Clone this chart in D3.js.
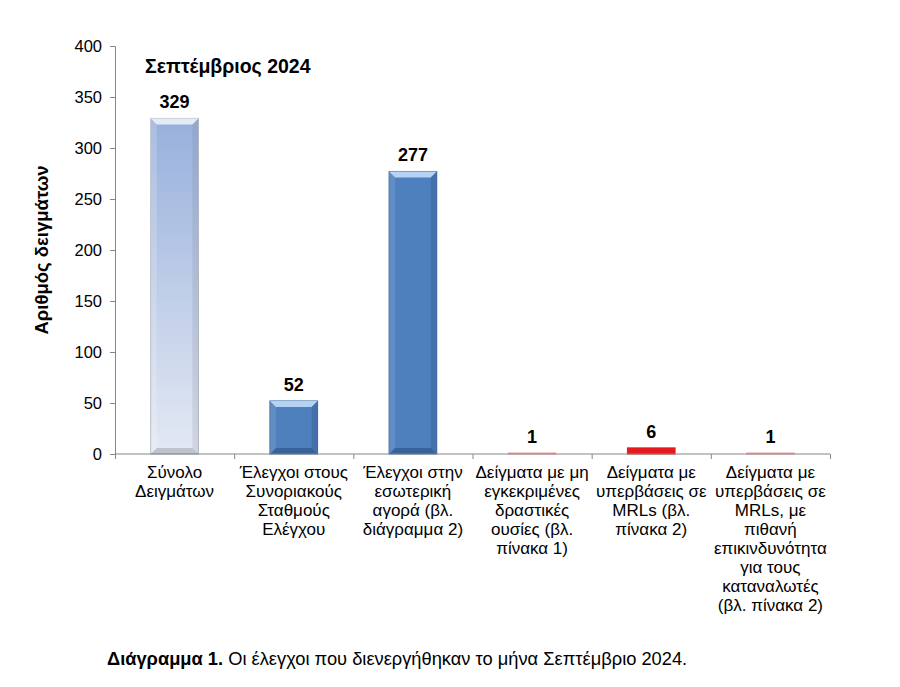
<!DOCTYPE html>
<html><head><meta charset="utf-8">
<script src="https://cdn.jsdelivr.net/npm/d3@7"></script>
<style>body{margin:0;background:#fff;} text{font-family:"Liberation Sans",Arial,sans-serif;}</style>
</head><body>
<svg id="c" width="900" height="687"></svg>
<script>
const categories = [
  ["Σύνολο","Δειγμάτων"],
  ["Έλεγχοι στους","Συνοριακούς","Σταθμούς","Ελέγχου"],
  ["Έλεγχοι στην","εσωτερική","αγορά (βλ.","διάγραμμα 2)"],
  ["Δείγματα με μη","εγκεκριμένες","δραστικές","ουσίες (βλ.","πίνακα 1)"],
  ["Δείγματα με","υπερβάσεις σε","MRLs (βλ.","πίνακα 2)"],
  ["Δείγματα με","υπερβάσεις σε","MRLs, με","πιθανή","επικινδυνότητα","για τους","καταναλωτές","(βλ. πίνακα 2)"]
];
const values = [329, 52, 277, 1, 6, 1];
const barKinds = ["total","blue","blue","red","red","red"];
const yTicks = [0,50,100,150,200,250,300,350,400];
const chartTitle = "Σεπτέμβριος 2024";
const yTitle = "Αριθμός δειγμάτων";

const svg = d3.select("#c");
const pL = 115, pR = 830, pT = 46, pB = 454;
const x = d3.scaleBand().domain(d3.range(values.length)).range([pL, pR]).paddingInner(0.6).paddingOuter(0.3);
const y = d3.scaleLinear().domain([0, 400]).range([pB, pT]);

const defs = svg.append("defs");
const g1 = defs.append("linearGradient").attr("id","gTotal").attr("x1",0).attr("y1",0).attr("x2",0).attr("y2",1);
g1.append("stop").attr("offset","0%").attr("stop-color","#97b0dc");
g1.append("stop").attr("offset","100%").attr("stop-color","#e4e9f3");

const colors = {
  total:{fill:"url(#gTotal)", stroke:"#b4b8c4", light:"rgba(255,255,255,0.75)", dark:"rgba(120,125,140,0.35)", side:"rgba(255,255,255,0.18)"},
  blue:{fill:"#4f80be", stroke:"#3f6ca6", light:"rgba(200,225,255,0.85)", dark:"rgba(30,60,110,0.45)", side:"rgba(255,255,255,0.10)"},
  red:{fill:"#e51a1f", stroke:"#e51a1f", light:"rgba(255,150,150,0.6)", dark:"rgba(120,0,0,0.3)", side:"rgba(255,255,255,0)"}
};

const bars = svg.append("g").selectAll("g").data(values).join("g");
bars.each(function(v, i){
  const g = d3.select(this);
  const c = colors[barKinds[i]];
  const bx = x(i), bw = x.bandwidth(), by = y(v), bh = y(0) - y(v);
  const thin = bh < 3;
  g.append("rect").attr("x", bx).attr("y", by).attr("width", bw).attr("height", bh)
    .attr("fill", thin ? "#f4a3a3" : c.fill).attr("stroke", thin ? "#f4a3a3" : c.stroke).attr("stroke-width", 1);
  if (bh > 12) {
    const e = 6;
    g.append("path").attr("d", `M${bx},${by}L${bx+bw},${by}L${bx+bw-e},${by+e}L${bx+e},${by+e}Z`).attr("fill", c.light);
    g.append("path").attr("d", `M${bx},${by+bh}L${bx+bw},${by+bh}L${bx+bw-e},${by+bh-e}L${bx+e},${by+bh-e}Z`).attr("fill", c.dark);
    g.append("path").attr("d", `M${bx},${by}L${bx+e},${by+e}L${bx+e},${by+bh-e}L${bx},${by+bh}Z`).attr("fill", c.side);
    g.append("path").attr("d", `M${bx+bw},${by}L${bx+bw-e},${by+e}L${bx+bw-e},${by+bh-e}L${bx+bw},${by+bh}Z`).attr("fill", c.dark).attr("opacity",0.5);
  }
  g.append("text").attr("x", bx + bw/2).attr("y", by - 10).attr("text-anchor","middle")
    .attr("font-size", 18).attr("font-weight","bold").attr("fill","#000").text(v);
});

// Y axis
const yAxis = svg.append("g").attr("transform", `translate(${pL},0)`)
  .call(d3.axisLeft(y).tickValues(yTicks).tickSize(5).tickPadding(8));
yAxis.select(".domain").attr("stroke","#868686");
yAxis.selectAll(".tick line").attr("stroke","#868686");
yAxis.selectAll(".tick text").attr("font-size",16.5).attr("fill","#000").attr("font-family","Liberation Sans, Arial, sans-serif");

// X axis
const xb = d3.scaleLinear().domain([0, values.length]).range([pL, pR]);
const xAxis = svg.append("g").attr("transform", `translate(0,${pB})`)
  .call(d3.axisBottom(xb).tickValues(d3.range(values.length + 1)).tickSize(5).tickFormat(""));
xAxis.select(".domain").attr("stroke","#868686").attr("d", `M${pL},0H${pR}`);
xAxis.selectAll(".tick line").attr("stroke","#868686");

// Category labels
const lab = svg.append("g").selectAll("text").data(categories).join("text")
  .attr("text-anchor","middle").attr("font-size",17).attr("fill","#000");
lab.each(function(lines, i){
  const t = d3.select(this);
  const cx = x(i) + x.bandwidth()/2;
  lines.forEach((ln, k) => t.append("tspan").attr("x", cx).attr("y", 478 + k*19).text(ln));
});

// Titles
svg.append("text").attr("x",145).attr("y",73).attr("font-size",19.5).attr("font-weight","bold").text(chartTitle);
svg.append("text").attr("transform","translate(48,250) rotate(-90)").attr("text-anchor","middle")
  .attr("font-size",18.5).attr("font-weight","bold").text(yTitle);

const cap = svg.append("text").attr("x",107).attr("y",665).attr("font-size",18.3);
cap.append("tspan").attr("font-weight","bold").text("Διάγραμμα 1.");
cap.append("tspan").text(" Οι έλεγχοι που διενεργήθηκαν το μήνα Σεπτέμβριο 2024.");
</script>
</body></html>
